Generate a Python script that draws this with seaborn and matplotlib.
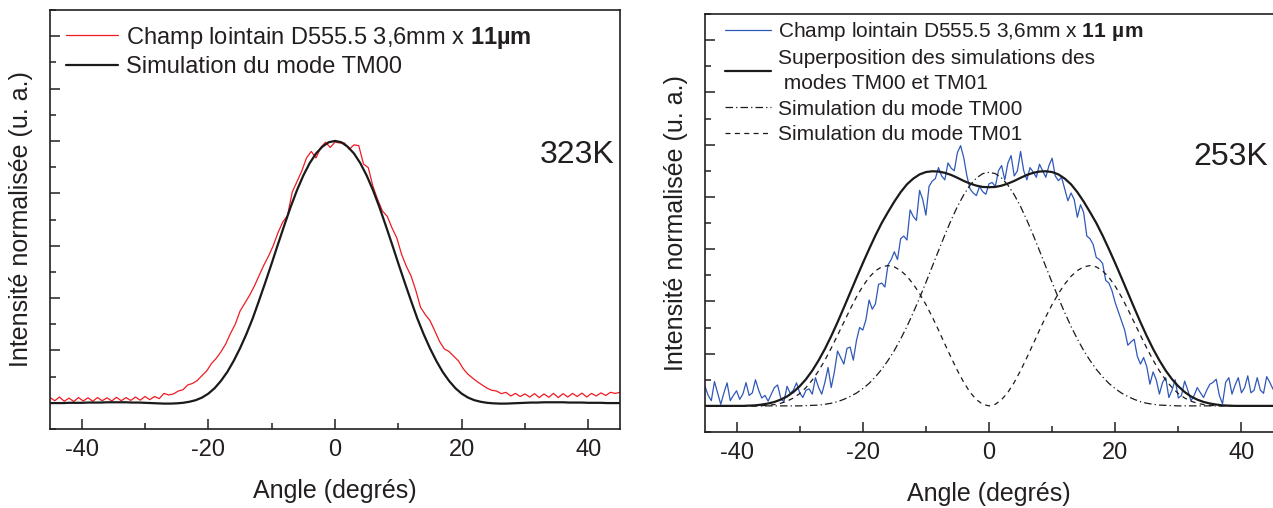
import numpy as np
import seaborn as sns
import matplotlib.pyplot as plt
from matplotlib.ticker import MultipleLocator

sns.set_theme(style='ticks')
plt.rcParams['font.family'] = ['Liberation Sans', 'DejaVu Sans']
plt.rcParams['mathtext.fontset'] = 'custom'
plt.rcParams['mathtext.rm'] = 'Liberation Sans'
plt.rcParams['mathtext.bf'] = 'Liberation Sans:bold'
plt.rcParams['axes.unicode_minus'] = False

TEXT = '#231f20'

# ---- data ----
# simulations sampled every degree
angle_sim = list(range(-45, 46))

sim_323_tm00 = [
    -0.001, -0.001, -0.001, 0.000, 0.000, 0.000, 0.001, 0.001, 0.001, 0.002,
    0.002, 0.002, 0.002, 0.001, 0.001, 0.000, -0.001, -0.002, -0.003, -0.003,
    -0.002, 0.000, 0.004, 0.010, 0.020, 0.035, 0.056, 0.084, 0.118, 0.160,
    0.208, 0.262, 0.322, 0.390, 0.460, 0.532, 0.606, 0.678, 0.748, 0.812,
    0.868, 0.915, 0.952, 0.978, 0.995, 1.000, 0.995, 0.978, 0.952, 0.915,
    0.868, 0.812, 0.748, 0.678, 0.606, 0.532, 0.460, 0.390, 0.322, 0.262,
    0.208, 0.160, 0.118, 0.084, 0.056, 0.035, 0.020, 0.010, 0.004, 0.000,
    -0.002, -0.003, -0.003, -0.002, -0.001, 0.000, 0.001, 0.001, 0.002, 0.002,
    0.002, 0.002, 0.001, 0.001, 0.001, 0.000, 0.000, 0.000, -0.001, -0.001,
    -0.001]

sim_253_sum = [
    0.000, 0.000, 0.000, 0.000, 0.000, 0.000, 0.000, 0.001, 0.002, 0.005,
    0.009, 0.015, 0.024, 0.036, 0.053, 0.075, 0.102, 0.135, 0.174, 0.218,
    0.267, 0.320, 0.376, 0.433, 0.490, 0.546, 0.600, 0.652, 0.700, 0.742,
    0.782, 0.818, 0.848, 0.870, 0.886, 0.895, 0.898, 0.897, 0.892, 0.884,
    0.873, 0.861, 0.851, 0.843, 0.838, 0.837, 0.838, 0.843, 0.851, 0.861,
    0.873, 0.884, 0.892, 0.897, 0.898, 0.895, 0.886, 0.870, 0.848, 0.818,
    0.782, 0.742, 0.700, 0.652, 0.600, 0.546, 0.490, 0.433, 0.376, 0.320,
    0.267, 0.218, 0.174, 0.135, 0.102, 0.075, 0.053, 0.036, 0.024, 0.015,
    0.009, 0.005, 0.002, 0.001, 0.000, 0.000, 0.000, 0.000, 0.000, 0.000,
    0.000]

sim_253_tm00 = [
    0.000, 0.000, 0.000, 0.000, 0.000, 0.000, 0.000, 0.000, 0.000, 0.000,
    0.000, 0.000, 0.000, 0.000, 0.000, 0.000, 0.001, 0.002, 0.003, 0.006,
    0.010, 0.016, 0.025, 0.036, 0.049, 0.066, 0.086, 0.111, 0.140, 0.174,
    0.212, 0.256, 0.304, 0.357, 0.413, 0.472, 0.533, 0.594, 0.654, 0.711,
    0.763, 0.808, 0.845, 0.872, 0.889, 0.894, 0.889, 0.872, 0.845, 0.808,
    0.763, 0.711, 0.654, 0.594, 0.533, 0.472, 0.413, 0.357, 0.304, 0.256,
    0.212, 0.174, 0.140, 0.111, 0.086, 0.066, 0.049, 0.036, 0.025, 0.016,
    0.010, 0.006, 0.003, 0.002, 0.001, 0.000, 0.000, 0.000, 0.000, 0.000,
    0.000, 0.000, 0.000, 0.000, 0.000, 0.000, 0.000, 0.000, 0.000, 0.000,
    0.000]

sim_253_tm01 = [
    0.000, 0.000, 0.000, 0.000, 0.000, 0.000, 0.000, 0.000, 0.000, 0.001,
    0.002, 0.005, 0.010, 0.018, 0.030, 0.047, 0.070, 0.099, 0.134, 0.175,
    0.221, 0.270, 0.320, 0.370, 0.417, 0.458, 0.492, 0.517, 0.532, 0.537,
    0.532, 0.518, 0.496, 0.466, 0.430, 0.388, 0.341, 0.290, 0.237, 0.185,
    0.135, 0.090, 0.052, 0.024, 0.006, 0.000, 0.006, 0.024, 0.052, 0.090,
    0.135, 0.185, 0.237, 0.290, 0.341, 0.388, 0.430, 0.466, 0.496, 0.518,
    0.532, 0.537, 0.532, 0.517, 0.492, 0.458, 0.417, 0.370, 0.320, 0.270,
    0.221, 0.175, 0.134, 0.099, 0.070, 0.047, 0.030, 0.018, 0.010, 0.005,
    0.002, 0.001, 0.000, 0.000, 0.000, 0.000, 0.000, 0.000, 0.000, 0.000,
    0.000]

# measured far field, 323 K (every 0.75 degree)
angle_323 = np.arange(-45, 45.01, 0.75)
champ_323 = [
    0.020, 0.008, 0.022, 0.006, 0.018, 0.005, 0.020, 0.007,
    0.019, 0.006, 0.020, 0.008, 0.019, 0.007, 0.021, 0.008,
    0.020, 0.009, 0.022, 0.010, 0.024, 0.012, 0.024, 0.016,
    0.036, 0.030, 0.034, 0.045, 0.050, 0.068, 0.074, 0.085,
    0.104, 0.122, 0.150, 0.170, 0.195, 0.225, 0.265, 0.300,
    0.350, 0.380, 0.410, 0.445, 0.485, 0.525, 0.560, 0.600,
    0.650, 0.690, 0.715, 0.805, 0.845, 0.885, 0.935, 0.960,
    0.935, 0.975, 0.995, 0.975, 0.996, 0.992, 0.992, 0.968,
    0.985, 0.982, 0.912, 0.898, 0.826, 0.775, 0.732, 0.712,
    0.668, 0.630, 0.568, 0.522, 0.485, 0.430, 0.365, 0.337,
    0.314, 0.275, 0.235, 0.206, 0.196, 0.178, 0.160, 0.130,
    0.109, 0.094, 0.080, 0.068, 0.056, 0.048, 0.045, 0.035,
    0.040, 0.026, 0.036, 0.024, 0.034, 0.022, 0.035, 0.020,
    0.034, 0.021, 0.036, 0.020, 0.035, 0.022, 0.036, 0.024,
    0.037, 0.022, 0.036, 0.026, 0.038, 0.028, 0.040, 0.036,
    0.040]

# measured far field, 253 K (every 0.5 degree)
angle_253 = np.arange(-45, 45.01, 0.5)
champ_253 = [
    0.075, 0.040, 0.020, 0.093, 0.050, 0.006, 0.050, 0.088, 0.020, 0.040,
    0.058, 0.025, 0.045, 0.089, 0.040, 0.050, 0.100, 0.060, 0.030, 0.040,
    0.018, 0.045, 0.070, 0.080, 0.030, 0.015, 0.075, 0.048, 0.060, 0.088,
    0.050, 0.032, 0.060, 0.065, 0.045, 0.108, 0.070, 0.045, 0.090, 0.147,
    0.070, 0.130, 0.210, 0.185, 0.160, 0.220, 0.225, 0.175, 0.250, 0.300,
    0.290, 0.330, 0.405, 0.370, 0.390, 0.465, 0.470, 0.455, 0.540, 0.560,
    0.590, 0.560, 0.640, 0.650, 0.635, 0.750, 0.725, 0.710, 0.825, 0.790,
    0.730, 0.840, 0.860, 0.870, 0.912, 0.880, 0.865, 0.930, 0.910, 0.900,
    0.970, 0.996, 0.950, 0.880, 0.830, 0.815, 0.805, 0.840, 0.820, 0.810,
    0.850, 0.855, 0.840, 0.900, 0.920, 0.865, 0.930, 0.958, 0.880, 0.900,
    0.974, 0.900, 0.865, 0.912, 0.895, 0.875, 0.925, 0.900, 0.875, 0.920,
    0.948, 0.880, 0.862, 0.875, 0.830, 0.785, 0.815, 0.790, 0.722, 0.770,
    0.740, 0.650, 0.640, 0.618, 0.568, 0.560, 0.545, 0.480, 0.470, 0.440,
    0.395, 0.360, 0.325, 0.290, 0.232, 0.245, 0.255, 0.190, 0.160, 0.185,
    0.150, 0.083, 0.130, 0.100, 0.045, 0.090, 0.108, 0.032, 0.060, 0.100,
    0.030, 0.040, 0.095, 0.060, 0.019, 0.040, 0.070, 0.050, 0.032, 0.060,
    0.083, 0.090, 0.102, 0.040, 0.008, 0.090, 0.108, 0.045, 0.080, 0.108,
    0.050, 0.070, 0.115, 0.050, 0.060, 0.108, 0.060, 0.048, 0.112, 0.090,
    0.064]

fig = plt.figure(figsize=(12.73, 5.08), dpi=100)
ax1 = fig.add_axes([50 / 1273, 79 / 508, 570 / 1273, 419 / 508])
ax2 = fig.add_axes([705 / 1273, 76 / 508, 568 / 1273, 418 / 508])

# left panel, 323 K
sns.lineplot(x=angle_323, y=champ_323, ax=ax1, color='#f01a22', lw=0.9,
             label=r'Champ lointain D555.5 3,6mm x $\mathbf{11µm}$', legend=False)
sns.lineplot(x=angle_sim, y=sim_323_tm00, ax=ax1, color='#1a1a1a', lw=1.6,
             label='Simulation du mode TM00', legend=False)

# right panel, 253 K
sns.lineplot(x=angle_253, y=champ_253, ax=ax2, color='#2f58b8', lw=0.9,
             label=r'Champ lointain D555.5 3,6mm x $\mathbf{11\ µm}$', legend=False)
sns.lineplot(x=angle_sim, y=sim_253_sum, ax=ax2, color='#1a1a1a', lw=1.6,
             label='Superposition des simulations des\n modes TM00 et TM01', legend=False)
sns.lineplot(x=angle_sim, y=sim_253_tm00, ax=ax2, color='#1a1a1a', lw=0.9,
             linestyle=(0, (6, 2.5, 1, 2.5)), label='Simulation du mode TM00', legend=False)
sns.lineplot(x=angle_sim, y=sim_253_tm01, ax=ax2, color='#1a1a1a', lw=0.9,
             linestyle=(0, (4, 3.5)), label='Simulation du mode TM01', legend=False)

for ax in (ax1, ax2):
    ax.set_xlim(-45, 45)
    ax.set_ylim(-0.1, 1.5)
    ax.xaxis.set_major_locator(MultipleLocator(20))
    ax.xaxis.set_minor_locator(MultipleLocator(10))
    ax.yaxis.set_major_locator(MultipleLocator(0.2))
    ax.yaxis.set_minor_locator(MultipleLocator(0.1))
    ax.tick_params(which='both', direction='in', color=TEXT, width=1.1,
                   labelleft=False, labelsize=17, labelcolor=TEXT, pad=7)
    ax.tick_params(which='major', length=7)
    ax.tick_params(which='minor', length=4)
    for sp in ax.spines.values():
        sp.set_linewidth(1.2)
        sp.set_color(TEXT)
    ax.set_xlabel('Angle (degrés)', fontsize=18, color=TEXT)
    ax.set_ylabel('Intensité normalisée (u. a.)', fontsize=18, color=TEXT)
    ax.xaxis.set_label_coords(0.5, -0.12)
    ax.yaxis.set_label_coords(-0.03, 0.5)

ax2.spines['right'].set_visible(False)

ax1.legend(loc='upper left', bbox_to_anchor=(0.028, 0.965), frameon=False,
           fontsize=17, handlelength=2.2, handletextpad=0.35, labelspacing=0.23,
           borderpad=0, borderaxespad=0, labelcolor=TEXT)
leg2 = ax2.legend(loc='upper left', bbox_to_anchor=(0.035, 0.986), frameon=False,
                  fontsize=15, handlelength=2.2, handletextpad=0.35, labelspacing=0.3,
                  borderpad=0, borderaxespad=0, labelcolor=TEXT)
for t in leg2.get_texts():
    t.set_linespacing(1.42)

ax1.text(0.991, 0.654, '323K', transform=ax1.transAxes, ha='right', va='center',
         fontsize=23, color=TEXT)
ax2.text(0.991, 0.658, '253K', transform=ax2.transAxes, ha='right', va='center',
         fontsize=23, color=TEXT)

fig.savefig('out.png', dpi=100)
